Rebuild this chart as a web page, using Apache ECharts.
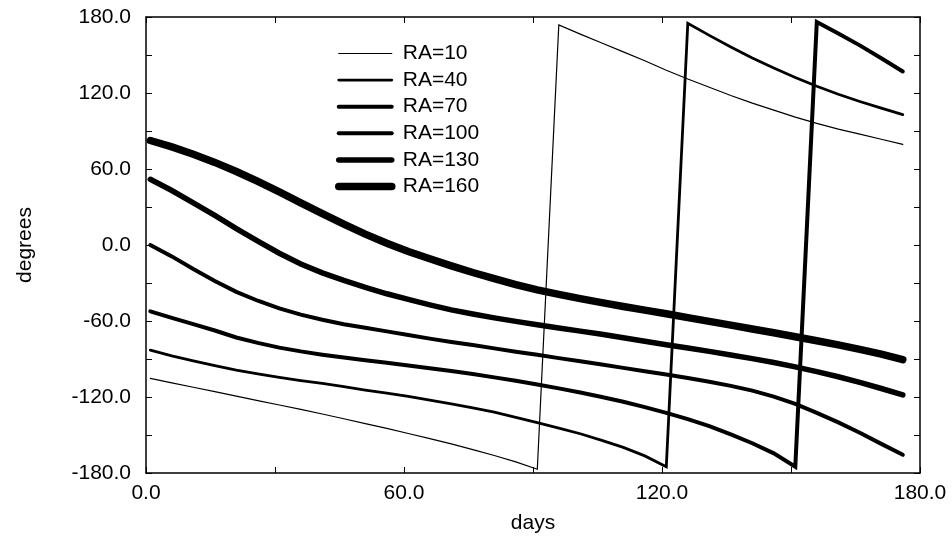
<!DOCTYPE html>
<html>
<head>
<meta charset="utf-8">
<script src="https://cdn.jsdelivr.net/npm/echarts@6/dist/echarts.min.js"></script>
<style>
html, body {margin: 0; padding: 0; background: #fff;}
#chart {width: 952px; height: 539px;}
</style>
</head>
<body>
<div id="chart"></div>
<script>
//横轴：天数
var days = [1, 6, 11, 16, 21, 26, 31, 36, 41, 46, 51, 56, 61, 66, 71, 76, 81, 86,
            91, 96, 101, 106, 111, 116, 121, 126, 131, 136, 141, 146, 151, 156, 161, 166, 171, 176];

//各赤经对应的角度（度）
var ra10 = [-105.3, -108.8, -112.3, -115.8, -119.3, -122.8, -126.3, -129.8, -133.4, -137.2, -141, -144.8,
            -148.8, -152.8, -157, -161.5, -166.2, -171.2, -177, 173.7, 166.5, 159.5, 152.5, 145.5,
            138, 131, 124.5, 118, 112, 106.5, 101, 96, 91.5, 87.5, 83.5, 79.4];
var ra40 = [-83, -87.5, -91.5, -95.3, -98.8, -101.8, -104.5, -107, -109.3, -111.8, -114.5, -117,
            -119.5, -122.5, -125.5, -128.5, -132, -136, -140.2, -144.5, -149, -154.2, -159.8, -166.5,
            -175, 175, 165.5, 156.3, 147.7, 139.7, 132.3, 125.3, 119, 113.3, 108, 103];
var ra70 = [-52.4, -57.5, -62.5, -67.5, -73, -77.3, -81, -84, -86.6, -88.9, -91, -93,
            -95.2, -97.3, -99.5, -101.9, -104.5, -107.2, -110.1, -113.2, -116.5, -120, -123.8, -128,
            -132.5, -137.5, -143, -149.5, -156.5, -164.5, -175, 176, 167, 157.6, 147.5, 137];
var ra100 = [0, -9, -19, -28.5, -37, -44, -50, -55, -59, -62.6, -65.4, -68.2,
             -71, -73.9, -76.5, -79, -81.6, -84.2, -86.7, -89.3, -91.8, -94.4, -97, -99.6,
             -102.3, -105, -108, -111.2, -115, -119.7, -125.5, -132.5, -140, -148.2, -157, -165.6];
var ra130 = [51.9, 43, 33.3, 23.3, 13, 3, -6.5, -15, -22, -28, -33.5, -38.5,
             -43, -47.3, -51.2, -54.5, -57.5, -60.3, -63, -65.5, -68, -70.5, -73.2, -76,
             -78.7, -81.3, -84, -86.8, -89.7, -92.8, -96.2, -100, -104, -108.5, -113.3, -118.4];
var ra160 = [82.5, 77.5, 71.7, 65.2, 58, 50.2, 41.9, 33.3, 24.7, 16.4, 8.6, 1.4,
             -5.1, -10.9, -16.5, -21.7, -26.6, -31.2, -35.4, -39, -42.3, -45.5, -48.5, -51.4,
             -54.3, -57.3, -60.3, -63.3, -66.3, -69.3, -72.4, -75.6, -78.9, -82.4, -86.2, -90.5];

var seriesNames = ['RA=10', 'RA=40', 'RA=70', 'RA=100', 'RA=130', 'RA=160'];

var fontFamily = 'Liberation Sans';
var chart = echarts.init(document.getElementById('chart'));

//把天数和角度拼成点
function toPairs(values) {
	var res = [];
	for (var i = 0; i < days.length; i++) {
		res.push([days[i], values[i]]);
	}
	return res;
}

function makeSeries(name, values, width) {
	return {
		name: name,
		type: 'line',
		symbol: 'none',
		showSymbol: false,
		clip: true,
		data: toPairs(values),
		lineStyle: {color: '#000', width: width, cap: 'round', join: 'miter'},
		itemStyle: {color: '#000'}
	};
}

//刻度标签只在60的倍数上显示
function tickLabel(v) {
	return v % 60 === 0 ? v.toFixed(1) : '';
}

//四条边框轴，刻度朝内
function frameAxis(pos, min, max, withLabel) {
	return {
		type: 'value',
		position: pos,
		min: min,
		max: max,
		interval: 30,
		axisLine: {show: true, onZero: false, lineStyle: {color: '#000', width: 1.5}},
		axisTick: {show: true, inside: true, length: 6, lineStyle: {color: '#000', width: 1}},
		splitLine: {show: false},
		axisLabel: {show: withLabel, formatter: tickLabel, color: '#000', fontSize: 21, fontFamily: fontFamily}
	};
}

var xBottom = frameAxis('bottom', 0, 180, true);
xBottom.axisLabel.margin = 10;
xBottom.name = 'days';
xBottom.nameLocation = 'middle';
xBottom.nameGap = 40;
xBottom.nameTextStyle = {color: '#000', fontSize: 21, fontFamily: fontFamily};

var yLeft = frameAxis('left', -180, 180, true);
yLeft.axisLabel.margin = 15;
yLeft.name = 'degrees';
yLeft.nameLocation = 'middle';
yLeft.nameGap = 110;
yLeft.nameTextStyle = {color: '#000', fontSize: 21, fontFamily: fontFamily};

var option = {
	animation: false,
	backgroundColor: '#fff',
	grid: {left: 146, right: 32, top: 17, bottom: 64, containLabel: false},
	legend: {
		orient: 'vertical',
		left: 335,
		top: 43,
		padding: 0,
		itemWidth: 53,
		itemHeight: 14,
		itemGap: 5.6,
		itemStyle: {opacity: 0},
		lineStyle: {width: 'inherit'},
		textStyle: {color: '#000', fontSize: 21, fontFamily: fontFamily, padding: [0, 0, 0, 6]},
		data: seriesNames
	},
	xAxis: [xBottom, frameAxis('top', 0, 180, false)],
	yAxis: [yLeft, frameAxis('right', -180, 180, false)],
	series: [
		makeSeries(seriesNames[0], ra10, 1.2),
		makeSeries(seriesNames[1], ra40, 2.8),
		makeSeries(seriesNames[2], ra70, 4),
		makeSeries(seriesNames[3], ra100, 4),
		makeSeries(seriesNames[4], ra130, 5.5),
		makeSeries(seriesNames[5], ra160, 7.5)
	]
};
chart.setOption(option);
</script>
</body>
</html>
